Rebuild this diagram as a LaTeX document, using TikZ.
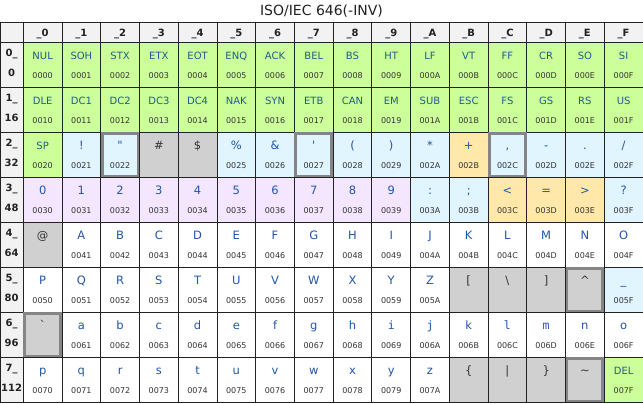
\documentclass[tikz,border=0pt]{standalone}
\usepackage{fontspec}
\setmainfont{DejaVu Sans}
\newfontfamily\monof{DejaVu Sans Mono}
\newfontfamily\plainf{DejaVu Sans}
\definecolor{cgreen}{HTML}{CCFF99}
\definecolor{cblue}{HTML}{E0F5FF}
\definecolor{cgray}{HTML}{D0D0D0}
\definecolor{corange}{HTML}{FFE8AA}
\definecolor{clav}{HTML}{F4E6FF}
\definecolor{chead}{HTML}{F2F2F2}
\definecolor{linec}{HTML}{222222}
\definecolor{thickc}{HTML}{858585}
\definecolor{ctlc}{HTML}{1F5C8C}
\definecolor{chc}{HTML}{2255AA}
\definecolor{codec}{HTML}{333333}
\definecolor{dkc}{HTML}{333333}
\tikzset{
  cellbox/.style={draw=linec, line width=0.9pt, minimum width=38.73pt, minimum height=45pt, inner sep=0pt, outer sep=0pt},
  hdrbox/.style={draw=linec, line width=0.9pt, fill=chead, minimum width=38.73pt, minimum height=19.6pt, inner sep=0pt, outer sep=0pt},
  cornerbox/.style={draw=linec, line width=0.9pt, fill=chead, minimum width=23.3pt, minimum height=19.6pt, inner sep=0pt, outer sep=0pt},
  rowbox/.style={draw=linec, line width=0.9pt, fill=chead, minimum width=23.3pt, minimum height=45pt, inner sep=0pt, outer sep=0pt},
  fg/.style={fill=cgreen}, fb/.style={fill=cblue}, fgr/.style={fill=cgray},
  fo/.style={fill=corange}, fl/.style={fill=clav}, fw/.style={fill=white},
  ctltxt/.style={font=\fontsize{10}{12}\selectfont, text=ctlc, inner sep=0pt},
  chtxt/.style={font=\fontsize{11.5}{13}\selectfont, text=chc, inner sep=0pt},
  plaintxt/.style={font=\plainf\fontsize{11.5}{13}\selectfont, text=chc, inner sep=0pt},
  monotxt/.style={font=\monof\fontsize{11.5}{13}\selectfont, text=chc, inner sep=0pt},
  dktxt/.style={font=\plainf\fontsize{11.5}{13}\selectfont, text=dkc, inner sep=0pt},
  codetxt/.style={font=\fontsize{8}{10}\selectfont, text=codec, inner sep=0pt},
  hdrtxt/.style={font=\bfseries\fontsize{10}{12}\selectfont, text=linec, inner sep=0pt},
  titletxt/.style={font=\fontsize{14}{16}\selectfont, text=linec, inner sep=0pt},
  thickb/.style={draw=thickc, line width=2.8pt}
}
\newcommand\mycell[5]{%
  \pgfmathsetmacro\cx{23.3+38.73*#1}%
  \pgfmathsetmacro\cy{42.3+45*#2}%
  \pgfmathparse{Hex(#1)}\edef\hd{\pgfmathresult}%
  \node[cellbox,#3,anchor=north west] (k#2\hd) at (\cx,\cy) {};
  \node[#4,anchor=base] (t#2\hd) at ([yshift=-17pt]k#2\hd.north) {#5};
  \node[codetxt,anchor=base] (n#2\hd) at ([yshift=-36.5pt]k#2\hd.north) {00#2\hd};
}
\newcommand\mygcell[3]{%
  \pgfmathsetmacro\cx{23.3+38.73*#1}%
  \pgfmathsetmacro\cy{42.3+45*#2}%
  \pgfmathparse{Hex(#1)}\edef\hd{\pgfmathresult}%
  \node[cellbox,fgr,anchor=north west] (k#2\hd) at (\cx,\cy) {};
  \node[dktxt,anchor=base] (t#2\hd) at ([yshift=-17pt]k#2\hd.north) {#3};
}
\begin{document}
\begin{tikzpicture}[x=1pt,y=-1pt]
\useasboundingbox (0,0) rectangle (643,404);
\node[titletxt,anchor=base] (title) at (321.5,16) {ISO/IEC 646(-INV)};
% header row
\node[cornerbox,anchor=north west] (corner) at (0,22.7) {};
\foreach \i in {0,...,15} {
  \pgfmathsetmacro\cx{23.3+38.73*\i}
  \pgfmathparse{Hex(\i)}\edef\hd{\pgfmathresult}
  \node[hdrbox,anchor=north west] (h\hd) at (\cx,22.7) {};
  \node[hdrtxt,anchor=base] (ht\hd) at ([yshift=-13.4pt]h\hd.north) {\_\hd};
}
% row headers
\foreach \r in {0,...,7} {
  \pgfmathsetmacro\cy{42.3+45*\r}
  \pgfmathtruncatemacro\dec{16*\r}
  \node[rowbox,anchor=north west] (r\r) at (0,\cy) {};
  \node[hdrtxt,anchor=base] (ra\r) at ([yshift=-13.8pt]r\r.north) {\r\_};
  \node[hdrtxt,anchor=base] (rb\r) at ([yshift=-33.8pt]r\r.north) {\dec};
}
% row 0 and 1
\foreach \nm [count=\i from 0] in {NUL,SOH,STX,ETX,EOT,ENQ,ACK,BEL,BS,HT,LF,VT,FF,CR,SO,SI} {
  \mycell{\i}{0}{fg}{ctltxt}{\nm}
}
\foreach \nm [count=\i from 0] in {DLE,DC1,DC2,DC3,DC4,NAK,SYN,ETB,CAN,EM,SUB,ESC,FS,GS,RS,US} {
  \mycell{\i}{1}{fg}{ctltxt}{\nm}
}
% row 2
\mycell{0}{2}{fg}{ctltxt}{SP}
\mycell{1}{2}{fb}{chtxt}{!}
\mycell{2}{2}{fb}{plaintxt}{\symbol{34}}
\mygcell{3}{2}{\#}
\mygcell{4}{2}{\$}
\mycell{5}{2}{fb}{chtxt}{\%}
\mycell{6}{2}{fb}{chtxt}{\&}
\mycell{7}{2}{fb}{plaintxt}{\symbol{39}}
\mycell{8}{2}{fb}{chtxt}{(}
\mycell{9}{2}{fb}{chtxt}{)}
\mycell{10}{2}{fb}{chtxt}{*}
\mycell{11}{2}{fo}{chtxt}{+}
\mycell{12}{2}{fb}{chtxt}{,}
\mycell{13}{2}{fb}{chtxt}{-}
\mycell{14}{2}{fb}{chtxt}{.}
\mycell{15}{2}{fb}{chtxt}{/}
% row 3
\foreach \i in {0,...,9} {
  \mycell{\i}{3}{fl}{chtxt}{\i}
}
\mycell{10}{3}{fb}{chtxt}{:}
\mycell{11}{3}{fb}{chtxt}{;}
\mycell{12}{3}{fo}{chtxt}{<}
\mycell{13}{3}{fo}{chtxt}{=}
\mycell{14}{3}{fo}{chtxt}{>}
\mycell{15}{3}{fb}{chtxt}{?}
% row 4
\mygcell{0}{4}{@}
\foreach \ch [count=\i from 1] in {A,...,O} {
  \mycell{\i}{4}{fw}{chtxt}{\ch}
}
% row 5
\foreach \ch [count=\i from 0] in {P,...,Z} {
  \mycell{\i}{5}{fw}{chtxt}{\ch}
}
\mygcell{11}{5}{[}
\mygcell{12}{5}{\textbackslash}
\mygcell{13}{5}{]}
\mygcell{14}{5}{\textasciicircum}
\mycell{15}{5}{fb}{chtxt}{\_}
% row 6
\mygcell{0}{6}{\symbol{96}}
\foreach \ch [count=\i from 1] in {a,...,h} {
  \mycell{\i}{6}{fw}{chtxt}{\ch}
}
\mycell{9}{6}{fw}{monotxt}{i}
\mycell{10}{6}{fw}{monotxt}{j}
\mycell{11}{6}{fw}{chtxt}{k}
\mycell{12}{6}{fw}{monotxt}{l}
\mycell{13}{6}{fw}{monotxt}{m}
\mycell{14}{6}{fw}{chtxt}{n}
\mycell{15}{6}{fw}{chtxt}{o}
% row 7
\foreach \ch [count=\i from 0] in {p,...,z} {
  \mycell{\i}{7}{fw}{chtxt}{\ch}
}
\mygcell{11}{7}{\{}
\mygcell{12}{7}{|}
\mygcell{13}{7}{\}}
\mygcell{14}{7}{\textasciitilde}
\mycell{15}{7}{fg}{ctltxt}{DEL}
% thick borders
\foreach \nm in {k22,k27,k2C,k5E,k60,k7E} {
  \draw[thickb] ([xshift=1.4pt,yshift=-1.4pt]\nm.north west) rectangle ([xshift=-1.4pt,yshift=1.4pt]\nm.south east);
}
\end{tikzpicture}
\end{document}
